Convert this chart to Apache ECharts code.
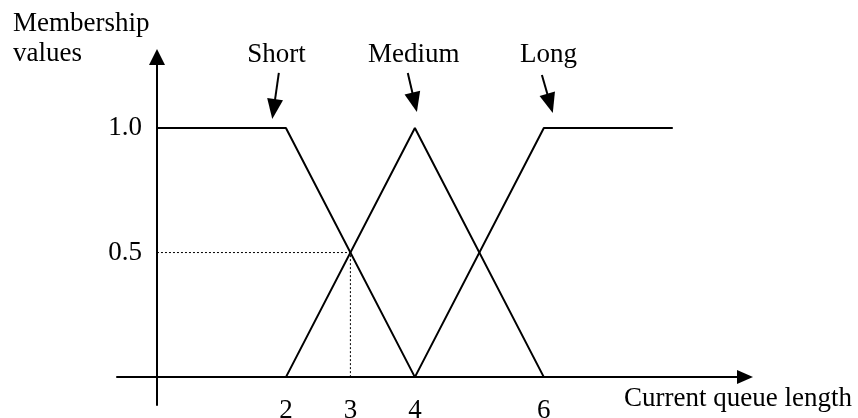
<!DOCTYPE html>
<html>
<head>
<meta charset="utf-8">
<script src="https://cdn.jsdelivr.net/npm/echarts@6/dist/echarts.min.js"></script>
<style>
  html, body { margin: 0; padding: 0; background: #fff; }
  #chart { width: 858px; height: 418px; }
</style>
</head>
<body>
<div id="chart"></div>
<script>
// membership functions, [queue length, membership]
const shortPts = [[0, 1], [2, 1], [4, 0]];
const mediumPts = [[2, 0], [4, 1], [6, 0]];
const longPts = [[4, 0], [6, 1], [8, 1]];
// dotted guide through the Short/Medium crossing
const guidePts = [[0, 0.5], [3, 0.5], [3, 0]];

const xTicks = [2, 3, 4, 6];
const yTicks = [0.5, 1.0];

// annotation arrows (data units), names sit above the arrow tails
const setNames = ['Short', 'Medium', 'Long'];
const arrowFrom = [[1.89, 1.221], [3.89, 1.221], [5.97, 1.213]];
const arrowTo = [[1.81, 1.076], [3.996, 1.103], [6.096, 1.099]];
const nameShift = [[-3, 0], [7, 0], [8, -2]];

const font = 'Liberation Serif, Times New Roman, serif';
const black = '#000';

const chart = echarts.init(document.getElementById('chart'));

const lineSeries = (pts, i) => ({
  type: 'line',
  data: pts,
  symbol: 'none',
  lineStyle: { color: black, width: 2 },
  silent: true,
  markLine: {
    silent: true,
    symbol: ['none', 'triangle'],
    symbolSize: [16, 20],
    lineStyle: { color: black, width: 2, type: 'solid' },
    label: {
      show: true,
      position: 'start',
      distance: 5,
      offset: nameShift[i],
      formatter: setNames[i],
      color: black,
      fontFamily: font,
      fontSize: 27
    },
    data: [[{ coord: arrowFrom[i] }, { coord: arrowTo[i] }]]
  }
});

const option = {
  animation: false,
  grid: { left: 117, right: 113, top: 57, bottom: 13, outerBoundsMode: 'none' },
  xAxis: {
    type: 'value',
    min: -0.62,
    max: 9.12,
    axisLine: {
      onZero: true,
      symbol: ['none', 'triangle'],
      symbolSize: [14, 16],
      lineStyle: { color: black, width: 2 }
    },
    axisTick: { show: false },
    splitLine: { show: false },
    axisLabel: {
      customValues: xTicks,
      margin: -8,
      color: black,
      fontFamily: font,
      fontSize: 27
    }
  },
  yAxis: {
    type: 'value',
    min: -0.112,
    max: 1.285,
    axisLine: {
      show: true,
      onZero: true,
      symbol: ['none', 'triangle'],
      symbolSize: [16, 16],
      lineStyle: { color: black, width: 2 }
    },
    axisTick: { show: false },
    splitLine: { show: false },
    axisLabel: {
      customValues: yTicks,
      formatter: v => v.toFixed(1),
      margin: -25,
      color: black,
      fontFamily: font,
      fontSize: 27
    }
  },
  graphic: [
    {
      type: 'text', left: 13, top: 10,
      style: { text: 'Membership', font: '27px ' + font, fill: black }
    },
    {
      type: 'text', left: 13, top: 40,
      style: { text: 'values', font: '27px ' + font, fill: black }
    },
    {
      type: 'text', left: 624, top: 385,
      style: { text: 'Current queue length', font: '27px ' + font, fill: black }
    }
  ],
  series: [
    lineSeries(shortPts, 0),
    lineSeries(mediumPts, 1),
    lineSeries(longPts, 2),
    {
      type: 'line',
      data: guidePts,
      symbol: 'none',
      silent: true,
      lineStyle: { color: black, width: 1, type: [2, 2] }
    }
  ]
};

chart.setOption(option);
window.addEventListener('resize', () => chart.resize());
</script>
</body>
</html>
